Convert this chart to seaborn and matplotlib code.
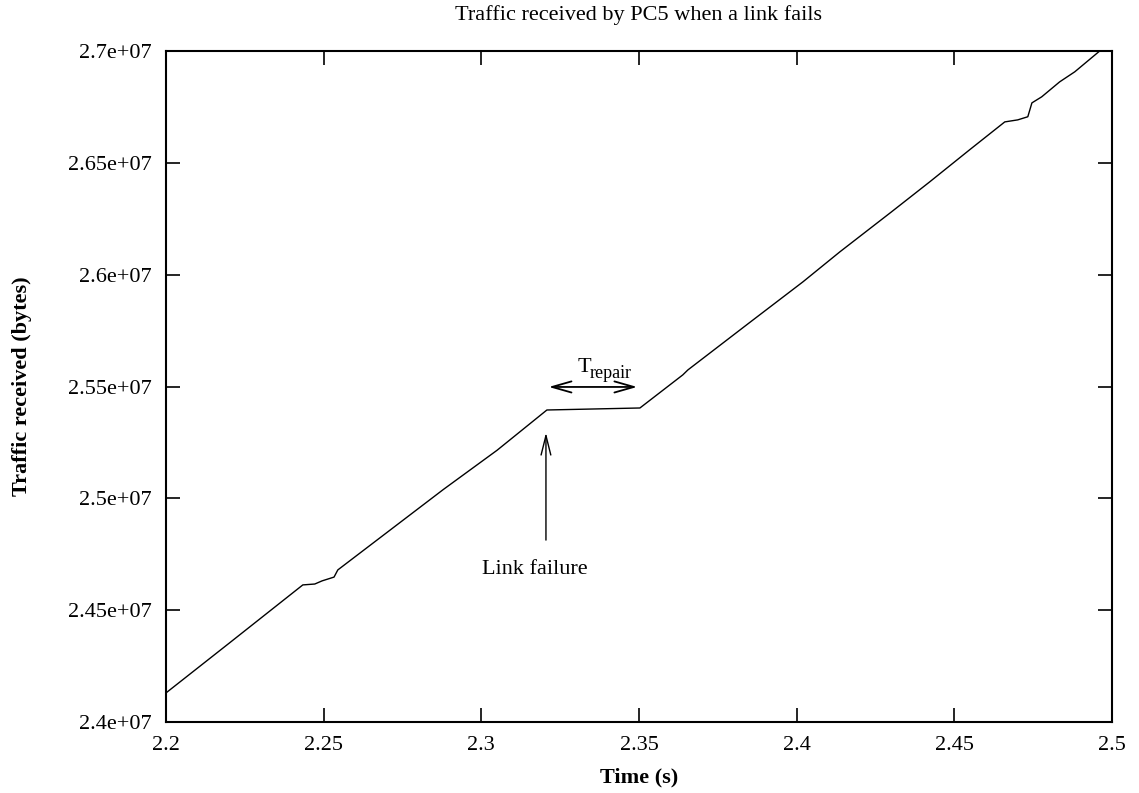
import matplotlib
matplotlib.use("Agg")
import matplotlib.pyplot as plt
import seaborn as sns
import pandas as pd

# Cumulative bytes received by PC5 over time
time_s = [2.2000, 2.2200, 2.2434, 2.2472, 2.2495, 2.2533, 2.2545, 2.2880,
          2.3050, 2.3208, 2.3503, 2.3639, 2.3655, 2.3850, 2.4020, 2.4137,
          2.4300, 2.4422, 2.4550, 2.4660, 2.4701, 2.4733, 2.4746, 2.4777,
          2.4834, 2.4882, 2.4961, 2.5000]
bytes_rx = [2.4130e7, 2.4352e7, 2.4613e7, 2.4617e7, 2.4631e7, 2.4648e7,
            2.4680e7, 2.5040e7, 2.5215e7, 2.5395e7, 2.5404e7, 2.5552e7,
            2.5574e7, 2.5785e7, 2.5968e7, 2.6102e7, 2.6280e7, 2.6415e7,
            2.6560e7, 2.6683e7, 2.6692e7, 2.6706e7, 2.6768e7, 2.6795e7,
            2.6862e7, 2.6907e7, 2.7000e7, 2.7045e7]

x_ticks = [2.2, 2.25, 2.3, 2.35, 2.4, 2.45, 2.5]
x_tick_labels = ["2.2", "2.25", "2.3", "2.35", "2.4", "2.45", "2.5"]
y_ticks = [2.4e7, 2.45e7, 2.5e7, 2.55e7, 2.6e7, 2.65e7, 2.7e7]
y_tick_labels = ["2.4e+07", "2.45e+07", "2.5e+07", "2.55e+07", "2.6e+07",
                 "2.65e+07", "2.7e+07"]

# Annotation anchors
failure_time = 2.3205
repair_start, repair_end = 2.3205, 2.3503

sns.set_style("ticks")
plt.rcParams["font.family"] = ["Liberation Serif", "DejaVu Serif"]
plt.rcParams["text.color"] = "black"
plt.rcParams["axes.labelcolor"] = "black"

FS = 16

df = pd.DataFrame({"time": time_s, "bytes": bytes_rx})

fig = plt.figure(figsize=(11.39, 7.93), dpi=100)
ax = fig.add_axes([0.1457, 0.0895, 0.8306, 0.8462])

sns.lineplot(data=df, x="time", y="bytes", ax=ax, color="black", linewidth=1.0)

ax.set_xlim(2.2, 2.5)
ax.set_ylim(2.4e7, 2.7e7)
ax.set_xticks(x_ticks)
ax.set_xticklabels(x_tick_labels)
ax.set_yticks(y_ticks)
ax.set_yticklabels(y_tick_labels)
ax.tick_params(direction="in", length=10, width=1.2, labelsize=FS,
               top=True, right=True, colors="black")
ax.tick_params(axis="y", pad=10)
ax.tick_params(axis="x", pad=10)
for sp in ax.spines.values():
    sp.set_visible(True)
    sp.set_linewidth(1.5)
    sp.set_color("black")

ax.set_xlabel("Time (s)", fontsize=FS, fontweight="bold", labelpad=9)
ax.set_ylabel("Traffic received (bytes)", fontsize=FS, fontweight="bold", labelpad=26)
ax.set_title("Traffic received by PC5 when a link fails", fontsize=FS, pad=22)

# Link failure marker
ax.annotate("", xy=(failure_time, 2.5306e7), xytext=(failure_time, 2.4801e7),
            arrowprops=dict(arrowstyle="->,head_length=1.4,head_width=0.35",
                            color="black", lw=1.0))
ax.text(2.3002, 2.4662e7, "Link failure", fontsize=FS, ha="left", va="baseline")

# Repair interval
ax.annotate("", xy=(repair_start, 2.5498e7), xytext=(repair_end, 2.5498e7),
            arrowprops=dict(arrowstyle="<->,head_length=1.4,head_width=0.4",
                            color="black", lw=1.3))
ax.text(2.3306, 2.5565e7, "T", fontsize=FS, ha="left", va="baseline")
ax.text(2.3344, 2.5538e7, "repair", fontsize=13, ha="left", va="baseline")

fig.savefig("out.png", dpi=100)
